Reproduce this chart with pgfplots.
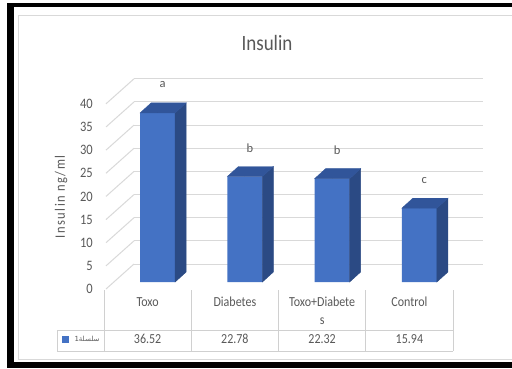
\documentclass[border=0pt]{standalone}
\usepackage{pgfplots}
\pgfplotsset{compat=1.18}
\usepackage{fontspec}
\setmainfont{Carlito}
\newfontfamily\arabicfont[Script=Arabic]{DejaVu Sans}
\newfontfamily\spacedfont[LetterSpace=12, Kerning=Off, Ligatures=NoCommon]{Carlito}
\TeXXeTstate=1

\definecolor{txt}{HTML}{595959}
\definecolor{gridc}{HTML}{D9D9D9}
\definecolor{tablec}{HTML}{D0D0D0}
\definecolor{barfront}{HTML}{4472C4}
\definecolor{bartop}{HTML}{31559A}
\definecolor{barside}{HTML}{2B4A84}

% text in this chart is set slightly taller than wide
\newcommand\vs[1]{\scalebox{1}[1.15]{#1}}

\begin{document}
\begin{tikzpicture}[x=1pt,y=1pt]
\useasboundingbox (0,0) rectangle (512,368);
\fill[white] (0,0) rectangle (512,368);

% outer frame and chart area border
\fill[black] (7,0) rectangle (14,365);
\fill[black] (7,361) rectangle (512,365);
\fill[black] (7,0) rectangle (512,6);
\draw[gridc, line width=0.8pt] (18,9) rectangle (520,353);

% title and axis title
\node[txt, font=\fontsize{19}{22}\selectfont] at (267,325) {\vs{Insulin}};
\node[txt, rotate=90, font=\fontsize{12.5}{15}\selectfont\spacedfont] at (61,171) {\vs{Insulin ng/ml}};

\begin{axis}[
  at={(114pt,86pt)}, anchor=south west,
  scale only axis, width=349pt, height=185.2pt,
  xmin=-0.5, xmax=3.5, ymin=0, ymax=40,
  clip=false,
  axis line style={draw=none},
  major tick length=0pt,
  xtick=\empty,
  ytick={0,5,...,40},
  yticklabel={\vs{\pgfmathprintnumber[assume math mode=true]{\tick}}},
  yticklabel style={anchor=east, inner sep=0pt, xshift=-21pt, yshift=-7pt,
    text=txt, font=\fontsize{12.5}{15}\selectfont},
]
% back wall and side wall gridlines
\pgfplotsinvokeforeach{0,5,...,40}{
  \draw[gridc, line width=1pt] ([shift={(20pt,18pt)}]axis cs:-0.5,#1) -- ([shift={(20pt,18pt)}]axis cs:3.5,#1);
  \draw[gridc, line width=1pt] ([shift={(-8pt,-7pt)}]axis cs:-0.5,#1) -- ([shift={(20pt,18pt)}]axis cs:-0.5,#1);
}

% top and side faces of the bars (depth 11pt x 10pt)
\addplot[scatter, only marks, mark=*, mark size=0pt,
  visualization depends on={rawy \as \val},
  scatter/@pre marker code/.code={%
    \pgfmathsetmacro\h{\val*4.63}%
    \fill[barside] (17.5pt,0pt) -- (28.5pt,10pt) -- (28.5pt,10pt-\h pt) -- (17.5pt,-\h pt) -- cycle;
    \fill[bartop] (-17.5pt,0pt) -- (17.5pt,0pt) -- (28.5pt,10pt) -- (-6.5pt,10pt) -- cycle;
  },
  scatter/@post marker code/.code={},
] coordinates {(0,36.52) (1,22.78) (2,22.32) (3,15.94)};

% front faces
\addplot[ybar, bar width=35pt, fill=barfront, draw=none]
  coordinates {(0,36.52) (1,22.78) (2,22.32) (3,15.94)};

% significance letters
\addplot[draw=none, mark=none, nodes near coords, point meta=explicit symbolic,
  nodes near coords style={anchor=center, xshift=5pt, yshift=28pt, text=txt,
    font=\fontsize{12.5}{15}\selectfont}]
  coordinates {(0,36.52)[a] (1,22.78)[b] (2,22.32)[b] (3,15.94)[c]};
\end{axis}

% data table below the chart
\foreach \x in {104,191.25,278.5,365.75,453} {
  \draw[tablec, line width=0.8pt] (\x,78) -- (\x,17);
}
\draw[tablec, line width=0.8pt] (57,38) -- (57,17);
\draw[tablec, line width=0.8pt] (57,38) -- (453,38);
\draw[tablec, line width=0.8pt] (57,17) -- (453,17);

\begin{scope}[every node/.style={text=txt, font=\fontsize{12}{14}\selectfont}]
\node at (147.6,66) {\vs{Toxo}};
\node at (234.9,66) {\vs{Diabetes}};
\node at (322.1,66) {\vs{Toxo+Diabete}};
\node at (322.1,47) {\vs{s}};
\node at (409.4,66) {\vs{Control}};
\node at (147.6,29) {\vs{36.52}};
\node at (234.9,29) {\vs{22.78}};
\node at (322.1,29) {\vs{22.32}};
\node at (409.4,29) {\vs{15.94}};
\end{scope}
\fill[barfront] (62,25) rectangle (69,32);
\node[text=txt, font=\fontsize{7}{8}\selectfont\arabicfont] at (87,29.5) {\beginR سلسلة1\endR};
\end{tikzpicture}
\end{document}
